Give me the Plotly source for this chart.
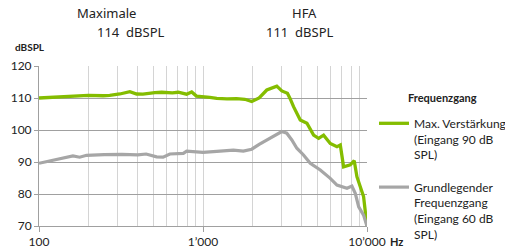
import plotly.graph_objects as go

# Frequency response data (Hz, dB SPL)
freq_max = [100, 147, 200, 246, 270, 311, 358, 394, 430, 509, 560, 650, 706, 794, 853, 912,
            1000, 1100, 1213, 1400, 1600, 1800, 1982, 2200, 2449, 2818, 3024, 3273, 3400,
            3565, 3917, 4303, 4724, 5070, 5437, 5970, 6560, 6874, 7200, 7910, 8360, 8680,
            9530, 10000]
val_max = [110.0, 110.4, 110.8, 110.7, 110.8, 111.25, 112.0, 111.25, 111.2, 111.7, 111.8,
           111.6, 111.8, 111.2, 111.9, 110.6, 110.5, 110.2, 109.9, 109.7, 109.8, 109.6,
           108.9, 110.0, 112.5, 113.7, 112.2, 111.5, 109.8, 107.3, 103.1, 102.1, 98.4, 97.4,
           98.4, 95.8, 94.8, 95.3, 88.5, 89.1, 90.4, 85.4, 79.2, 69.9]

freq_base = [100, 115, 128, 145, 161, 177, 195, 250, 320, 400, 450, 521, 571, 628, 759, 795,
             1000, 1213, 1531, 1762, 1982, 2200, 2449, 2690, 3024, 3243, 3480, 3735, 4100,
             4510, 5190, 5970, 6560, 7550, 8090, 8480, 8900, 9530, 10000]
val_base = [89.6, 90.3, 91.0, 91.5, 91.9, 91.5, 92.1, 92.3, 92.4, 92.2, 92.5, 91.6, 91.5,
            92.5, 92.7, 93.4, 93.0, 93.3, 93.7, 93.4, 94.0, 95.5, 96.9, 97.9, 99.5, 99.0,
            96.9, 94.3, 92.2, 89.6, 87.5, 84.9, 82.8, 81.8, 82.5, 80.2, 76.0, 73.4, 69.9]

x_tickvals = [100, 1000, 10000]
x_ticktext = ["100", "1\u2019000", "10\u2019000"]
x_minor = [200, 300, 400, 500, 600, 700, 800, 900,
           2000, 3000, 4000, 5000, 6000, 7000, 8000, 9000]
name_max = "Max. Verstärkung<br>(Eingang 90 dB<br>SPL)"
name_base = "Grundlegender<br>Frequenzgang<br>(Eingang 60 dB<br>SPL)"
legend_title = "Frequenzgang"
header_texts = ["Maximale", "114  dBSPL", "HFA", "111  dBSPL"]

GREEN = "#84BD00"
GREY = "#A6A6A6"
FONT = "Lato"

W, H = 505, 248
L, R, T, B = 39, 138, 66, 22
pw, ph = W - L - R, H - T - B


def px(xp):
    return (xp - L) / pw


def py(yp):
    return (H - B - yp) / ph


fig = go.Figure()
fig.add_trace(go.Scatter(x=freq_max, y=val_max, mode="lines", name=name_max,
                         line=dict(color=GREEN, width=3.3), legendgroup="a"))
fig.add_trace(go.Scatter(x=freq_base, y=val_base, mode="lines", name=name_base,
                         line=dict(color=GREY, width=3.2), legendgroup="b"))

anns = []
for text, xp, yp in zip(header_texts, [106, 131, 304, 300], [13, 32, 13, 32]):
    anns.append(dict(text=text, x=px(xp), y=py(yp), xref="paper", yref="paper",
                     showarrow=False, xanchor="center", yanchor="middle",
                     font=dict(family="Noto Sans", size=13, color="#222222")))
anns.append(dict(text="<b>dBSPL</b>", x=px(30), y=py(47), xref="paper", yref="paper",
                 showarrow=False, xanchor="center", yanchor="middle",
                 font=dict(family=FONT, size=10, color="#222222")))
anns.append(dict(text="<b>Hz</b>", x=px(396), y=py(241), xref="paper", yref="paper",
                 showarrow=False, xanchor="center", yanchor="middle",
                 font=dict(family=FONT, size=11, color="#222222")))
anns.append(dict(text="<b>" + legend_title + "</b>", x=px(442), y=py(97),
                 xref="paper", yref="paper", showarrow=False,
                 xanchor="center", yanchor="middle",
                 font=dict(family=FONT, size=11, color="#222222")))

fig.update_layout(
    width=W, height=H,
    margin=dict(l=L, r=R, t=T, b=B, autoexpand=False),
    paper_bgcolor="white", plot_bgcolor="white",
    font=dict(family=FONT, size=12, color="#222222"),
    showlegend=True,
    legend=dict(
        x=px(374), xanchor="left", y=py(109), yanchor="top",
        valign="top", tracegroupgap=14,
        font=dict(family=FONT, size=12, color="#222222"),
        bgcolor="rgba(0,0,0,0)",
    ),
    xaxis=dict(
        type="log", range=[2, 4], automargin=False,
        tickvals=x_tickvals, ticktext=x_ticktext,
        ticks="outside", ticklen=5, tickcolor="#A0A0A0",
        showline=True, linecolor="#A0A0A0", linewidth=1,
        showgrid=True, gridcolor="#D4D4D4", gridwidth=1,
        minor=dict(tickvals=x_minor, showgrid=True, gridcolor="#D4D4D4", ticks=""),
        tickfont=dict(family=FONT, size=12, color="#222222"),
        zeroline=False,
    ),
    yaxis=dict(
        range=[70, 120], dtick=10, automargin=False,
        ticks="outside", ticklen=4, tickcolor="#A0A0A0",
        showline=True, linecolor="#A0A0A0", linewidth=1,
        showgrid=True, gridcolor="#A0A0A0", gridwidth=1,
        tickfont=dict(family=FONT, size=12, color="#222222"),
        zeroline=False,
    ),
    annotations=anns,
)

fig.write_html("out.html", config={"displayModeBar": False},
               post_script="document.body.style.margin='0';")
